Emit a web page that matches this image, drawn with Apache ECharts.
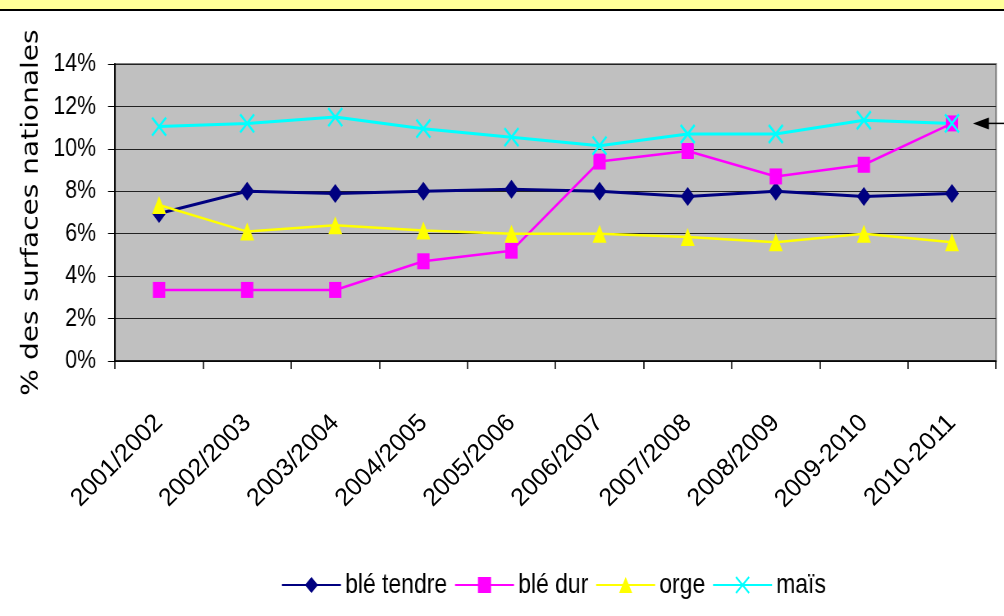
<!DOCTYPE html>
<html>
<head>
<meta charset="utf-8">
<script src="https://cdn.jsdelivr.net/npm/echarts@6/dist/echarts.min.js"></script>
<style>
html,body{margin:0;padding:0;background:#fff;overflow:hidden;width:1004px;height:616px;position:relative}
#c{position:absolute;left:0;top:0;width:1224px;height:616px;transform:scaleX(0.820261);transform-origin:0 0}
#o{position:absolute;left:0;top:0;width:1004px;height:616px;pointer-events:none}
</style>
</head>
<body>
<div id="c"></div>
<div id="o"></div>
<script>
const categories = ['2001/2002','2002/2003','2003/2004','2004/2005','2005/2006','2006/2007','2007/2008','2008/2009','2009-2010','2010-2011'];
const bleTendre = [6.95, 8.0, 7.9, 8.0, 8.1, 8.0, 7.75, 8.0, 7.75, 7.9];
const bleDur = [3.35, 3.35, 3.35, 4.7, 5.2, 9.4, 9.9, 8.7, 9.25, 11.2];
const orge = [7.35, 6.1, 6.4, 6.15, 6.0, 6.0, 5.85, 5.6, 6.0, 5.6];
const mais = [11.05, 11.2, 11.5, 10.95, 10.55, 10.15, 10.7, 10.7, 11.35, 11.2];
const yTicks = ['0%','2%','4%','6%','8%','10%','12%','14%'];

// The reference is drawn with horizontally condensed glyphs; the main chart is
// laid out in a wider box and condensed by CSS (factor S). The rotated category
// labels are drawn by a second, unscaled chart on the same grid so they are not sheared.
const S = 0.820261;
const W = 1224;
const FONT = "'Liberation Sans', Arial, sans-serif";
const chart = echarts.init(document.getElementById('c'), null, {renderer:'canvas'});
const xPath = 'path://M0,0L20,18M20,0L0,18';

chart.setOption({
  animation: false,
  backgroundColor: '#ffffff',
  grid: {left:115/S, right:8/S, top:64, bottom:255, show:true, backgroundColor:'#C0C0C0', borderColor:'#808080', borderWidth:2},
  legend: {
    top: 566, left: 277/S, itemWidth: 59/S, itemHeight: 20, itemGap: 7/S,
    textStyle: {fontFamily: FONT, fontSize: 28, color:'#000'},
    data: ['blé tendre','blé dur','orge','maïs']
  },
  xAxis: {
    type:'category', data: categories, boundaryGap: true,
    axisLine: {lineStyle:{color:'#000', width:1.5}},
    axisTick: {show:true, length:8, lineStyle:{color:'#000', width:1.5}},
    axisLabel: {show:false}
  },
  yAxis: {
    type:'value', min:0, max:14, interval:2,
    name:'% des surfaces nationales', nameLocation:'middle', nameGap:72/S, nameRotate:90,
    nameTextStyle:{fontFamily:"'DejaVu Sans', sans-serif", fontSize:28, color:'#000'},
    axisLine: {show:true, lineStyle:{color:'#000', width:1.8}},
    axisTick: {show:true, length:7/S, lineStyle:{color:'#000'}},
    axisLabel: {margin:19/S, fontFamily: FONT, fontSize:26, color:'#000', formatter: v => yTicks[Math.round(v/2)]},
    splitLine: {show:true, lineStyle:{color:'#222', width:1.2}}
  },
  series: [
    {name:'blé tendre', type:'line', data: bleTendre, symbol:'diamond', symbolSize:[17,19],
     lineStyle:{color:'#000080', width:3}, itemStyle:{color:'#000080'}},
    {name:'blé dur', type:'line', data: bleDur, symbol:'rect', symbolSize:[15,16],
     lineStyle:{color:'#FF00FF', width:2.5}, itemStyle:{color:'#FF00FF'}},
    {name:'orge', type:'line', data: orge, symbol:'triangle', symbolSize:[17,18],
     lineStyle:{color:'#FFFF00', width:2.5}, itemStyle:{color:'#FFFF00'}},
    {name:'maïs', type:'line', data: mais, symbol:xPath, symbolSize:[17,18],
     lineStyle:{color:'#00FFFF', width:3}, itemStyle:{color:'rgba(0,0,0,0)', borderColor:'#00FFFF', borderWidth:2.5}}
  ]
});

function drawExtras(){
  const last = categories.length - 1;
  const p = chart.convertToPixel({seriesIndex:3}, [last, mais[last]]);
  const tipX = p[0] + 21/S, y = p[1];
  chart.setOption({graphic: [
    {type:'rect', shape:{x:0, y:0, width:W, height:10}, style:{fill:'#FFFF99'}, silent:true},
    {type:'line', shape:{x1:0, y1:10, x2:W, y2:10}, style:{stroke:'#000', lineWidth:2}, silent:true},
    {type:'line', shape:{x1:tipX+10/S, y1:y, x2:W, y2:y}, style:{stroke:'#000', lineWidth:1.5}, silent:true},
    {type:'polygon', shape:{points:[[tipX, y],[tipX+16/S, y-6],[tipX+16/S, y+6]]}, style:{fill:'#000'}, silent:true}
  ]});
}
drawExtras();

// Unscaled overlay: category labels only, same grid as the main chart.
const overlay = echarts.init(document.getElementById('o'), null, {renderer:'canvas'});
overlay.setOption({
  animation: false,
  backgroundColor: 'transparent',
  grid: {left:115, right:8, top:64, bottom:255, show:false},
  xAxis: {
    type:'category', data: categories, boundaryGap: true,
    axisLine:{show:false}, axisTick:{show:false}, splitLine:{show:false},
    axisLabel: {rotate:45, margin:58, fontFamily: FONT, fontSize:25, color:'#000'}
  },
  yAxis: {type:'value', min:0, max:14, interval:2, show:false},
  series: []
});
</script>
</body>
</html>
